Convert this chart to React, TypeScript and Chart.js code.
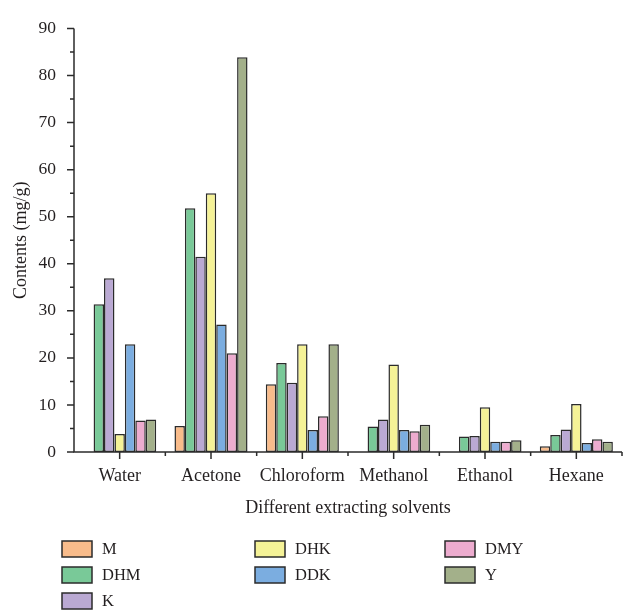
import React, { useEffect, useRef } from "react";
import { Chart, registerables } from "chart.js";

Chart.register(...registerables);

const categories = ["Water", "Acetone", "Chloroform", "Methanol", "Ethanol", "Hexane"];
const seriesNames = ["M", "DHM", "K", "DHK", "DDK", "DMY", "Y"];
const M = [null, 5.5, 14.4, null, null, 1.2];
const DHM = [31.4, 51.8, 18.9, 5.4, 3.3, 3.6];
const K = [36.9, 41.5, 14.7, 6.9, 3.4, 4.8];
const DHK = [3.8, 55.0, 22.9, 18.6, 9.5, 10.2];
const DDK = [22.9, 27.1, 4.7, 4.7, 2.2, 1.9];
const DMY = [6.7, 21.0, 7.6, 4.4, 2.2, 2.7];
const Y = [6.9, 83.9, 22.9, 5.8, 2.5, 2.2];
const seriesValues = [M, DHM, K, DHK, DDK, DMY, Y];
const seriesColors = ["#F9BC8B", "#79C998", "#BAA9D3", "#F5F297", "#7BADE0", "#EDACCF", "#A3B08A"];
const yTicks = [0, 10, 20, 30, 40, 50, 60, 70, 80, 90];

const FONT = "'Liberation Serif', 'Times New Roman', serif";
const TEXT = "#231F20";
const AXIS = "#2b2b2b";

const axesAndLegend = {
  id: "axesAndLegend",
  afterDraw(chart: any) {
    const ctx = chart.ctx;
    const { left, right, top, bottom } = chart.chartArea;
    const xs = chart.scales.x;
    const ys = chart.scales.y;
    ctx.save();
    ctx.strokeStyle = AXIS;
    ctx.lineWidth = 1.5;
    ctx.beginPath();
    ctx.moveTo(left, top);
    ctx.lineTo(left, bottom);
    ctx.lineTo(right, bottom);
    ctx.stroke();
    ctx.beginPath();
    for (let v = 0; v <= 90; v += 5) {
      const y = ys.getPixelForValue(v);
      const len = v % 10 === 0 ? 7 : 4;
      ctx.moveTo(left, y);
      ctx.lineTo(left - len, y);
    }
    for (let i = 0; i < categories.length; i++) {
      const x = xs.getPixelForValue(i);
      ctx.moveTo(x, bottom);
      ctx.lineTo(x, bottom + 7);
    }
    for (let i = 1; i <= categories.length; i++) {
      const x = i === categories.length ? right : (xs.getPixelForValue(i - 1) + xs.getPixelForValue(i)) / 2;
      ctx.moveTo(x, bottom);
      ctx.lineTo(x, bottom + 4);
    }
    ctx.stroke();

    const colX = [62, 255, 445];
    const rowY = [541, 567, 593];
    ctx.font = `16.5px ${FONT}`;
    ctx.textBaseline = "middle";
    ctx.textAlign = "left";
    chart.data.datasets.forEach((ds: any, i: number) => {
      const col = i < 3 ? 0 : i < 5 ? 1 : 2;
      const row = i < 3 ? i : i < 5 ? i - 3 : i - 5;
      const bx = colX[col];
      const by = rowY[row];
      ctx.fillStyle = ds.backgroundColor;
      ctx.fillRect(bx, by, 30, 16);
      ctx.lineWidth = 1.5;
      ctx.strokeStyle = AXIS;
      ctx.strokeRect(bx, by, 30, 16);
      ctx.fillStyle = TEXT;
      ctx.fillText(ds.label, bx + 40, by + 8.5);
    });
    ctx.restore();
  },
};

export default function App() {
  const ref = useRef<HTMLCanvasElement>(null);
  useEffect(() => {
    if (!ref.current) return;
    const chart = new Chart(ref.current, {
      type: "bar",
      data: {
        labels: categories,
        datasets: seriesNames.map((name, i) => ({
          label: name,
          data: seriesValues[i] as any,
          backgroundColor: seriesColors[i],
          borderColor: AXIS,
          borderWidth: 1.5,
          borderSkipped: false,
          categoryPercentage: 0.8,
          barPercentage: 1.0,
        })),
      },
      options: {
        animation: false,
        responsive: true,
        maintainAspectRatio: false,
        layout: { padding: { top: 20, right: 2, bottom: 94, left: 0 } },
        plugins: {
          legend: { display: false },
          tooltip: { enabled: false },
        },
        scales: {
          x: {
            grid: { display: false, drawTicks: false },
            border: { display: false },
            ticks: { color: TEXT, font: { family: FONT, size: 18 }, padding: 13, maxRotation: 0 },
            title: {
              display: true,
              text: "Different extracting solvents",
              color: TEXT,
              font: { family: FONT, size: 18 },
              padding: { top: 0, bottom: 1 },
            },
            afterFit: (s: any) => {
              s.height = 68;
            },
          },
          y: {
            min: 0,
            max: 90,
            afterBuildTicks: (s: any) => {
              s.ticks = yTicks.map((v) => ({ value: v }));
            },
            grid: { display: false, drawTicks: false },
            border: { display: false },
            ticks: { color: TEXT, font: { family: FONT, size: 17.5 }, padding: 18 },
            title: {
              display: true,
              text: "Contents (mg/g)",
              color: TEXT,
              font: { family: FONT, size: 18 },
              padding: { top: 10, bottom: 0 },
            },
            afterFit: (s: any) => {
              s.width = 74;
            },
          },
        },
      },
      plugins: [axesAndLegend],
    });
    return () => chart.destroy();
  }, []);
  return (
    <div style={{ position: "fixed", left: 0, top: 0, width: 624, height: 614, background: "#fff" }}>
      <canvas ref={ref} />
    </div>
  );
}
